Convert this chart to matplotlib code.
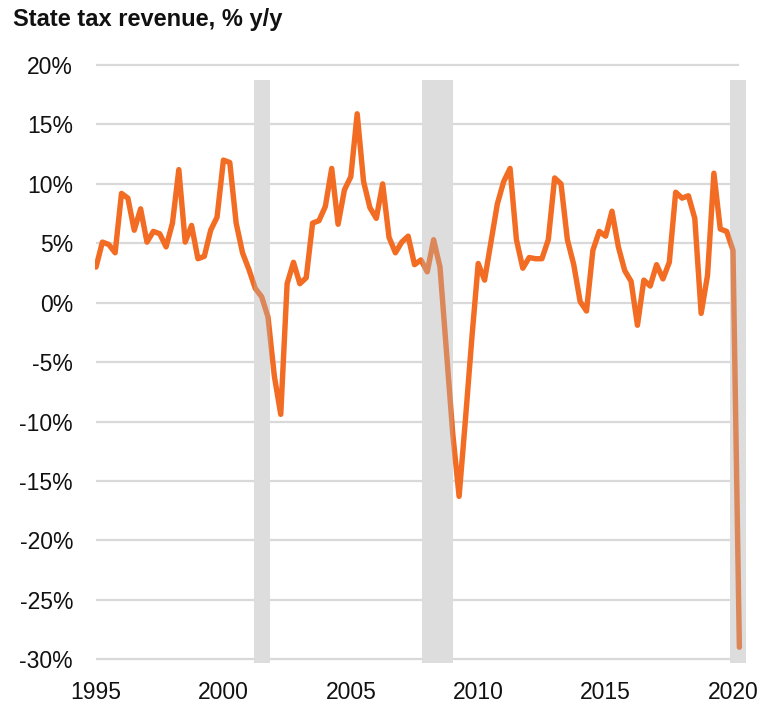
import numpy as np
import matplotlib
matplotlib.use("Agg")
import matplotlib.pyplot as plt

# quarterly state tax revenue growth, % y/y, 1995 Q1 - 2020 Q2
start_year = 1995
revenue_growth = [3.0, 5.1, 4.9, 4.2, 9.2, 8.8, 6.1, 7.9, 5.1, 6.0,
                  5.8, 4.7, 6.7, 11.2, 5.1, 6.5, 3.7, 3.9, 6.1, 7.2,
                  12.0, 11.8, 6.7, 4.2, 2.8, 1.2, 0.5, -1.2, -6.2, -9.4,
                  1.6, 3.4, 1.6, 2.1, 6.7, 6.9, 8.1, 11.3, 6.6, 9.5,
                  10.6, 15.9, 10.2, 8.0, 7.1, 10.0, 5.5, 4.2, 5.1, 5.6,
                  3.2, 3.6, 2.6, 5.3, 3.0, -4.0, -11.0, -16.3, -9.8, -3.0,
                  3.3, 1.9, 5.1, 8.3, 10.2, 11.3, 5.3, 2.9, 3.8, 3.7,
                  3.7, 5.3, 10.5, 10.0, 5.3, 3.2, 0.1, -0.7, 4.4, 6.0,
                  5.6, 7.7, 4.7, 2.7, 1.8, -1.9, 1.9, 1.4, 3.2, 2.0,
                  3.4, 9.3, 8.8, 9.0, 7.1, -0.9, 2.3, 10.9, 6.2, 6.0,
                  4.4, -29.0]
recession_start = [2001.20, 2007.81, 2019.88]
recession_end = [2001.83, 2009.00, 2020.51]
year_ticks = [1995, 2000, 2005, 2010, 2015, 2020]
pct_ticks = [20, 15, 10, 5, 0, -5, -10, -15, -20, -25, -30]

orange = "#F26C23"
muted = "#DB8759"
band_grey = "#DDDDDD"
grid_grey = "#D9D9D9"

plt.rcParams['font.family'] = ['Liberation Sans', 'DejaVu Sans']

years = start_year + np.arange(len(revenue_growth)) / 4

fig = plt.figure(figsize=(7.61, 7.04), dpi=100)
ax = fig.add_axes([95 / 761, 41.3 / 704, (746 - 95) / 761, (642.5 - 41.3) / 704])

ax.set_xlim(1994.96, 2020.51)
ax.set_ylim(-30.3, 20.3)
band_top = (18.75 + 30.3) / 50.6

# gridlines
ax.hlines(pct_ticks, years[0], years[-1], color=grid_grey, lw=1.6, zorder=1)

# main line
ax.plot(years, revenue_growth, color=orange, lw=3.9, solid_joinstyle="round",
        solid_capstyle="round", zorder=2)

# recession bands, with the line shown muted inside them
for x0, x1 in zip(recession_start, recession_end):
    band = ax.axvspan(x0, x1, ymin=0, ymax=band_top, color=band_grey, lw=0, zorder=3)
    seg, = ax.plot(years, revenue_growth, color=muted, lw=3.9, solid_joinstyle="round",
                   solid_capstyle="round", zorder=4)
    seg.set_clip_path(band)

ax.set_xticks(year_ticks)
ax.set_xticklabels([str(y) for y in year_ticks])
ax.set_yticks(pct_ticks)
ax.set_yticklabels([f"{t}%" for t in pct_ticks])
ax.tick_params(axis="y", length=0, pad=15.8, labelsize=16.5, colors="#111111")
ax.tick_params(axis="x", length=0, pad=13.5, labelsize=16.5, colors="#111111")
for s in ax.spines.values():
    s.set_visible(False)

fig.text(13 / 761, 1 - 26 / 704, "State tax revenue, % y/y", fontsize=17,
         fontweight="bold", color="#111111", ha="left", va="baseline")

fig.savefig("out.png", dpi=100)
